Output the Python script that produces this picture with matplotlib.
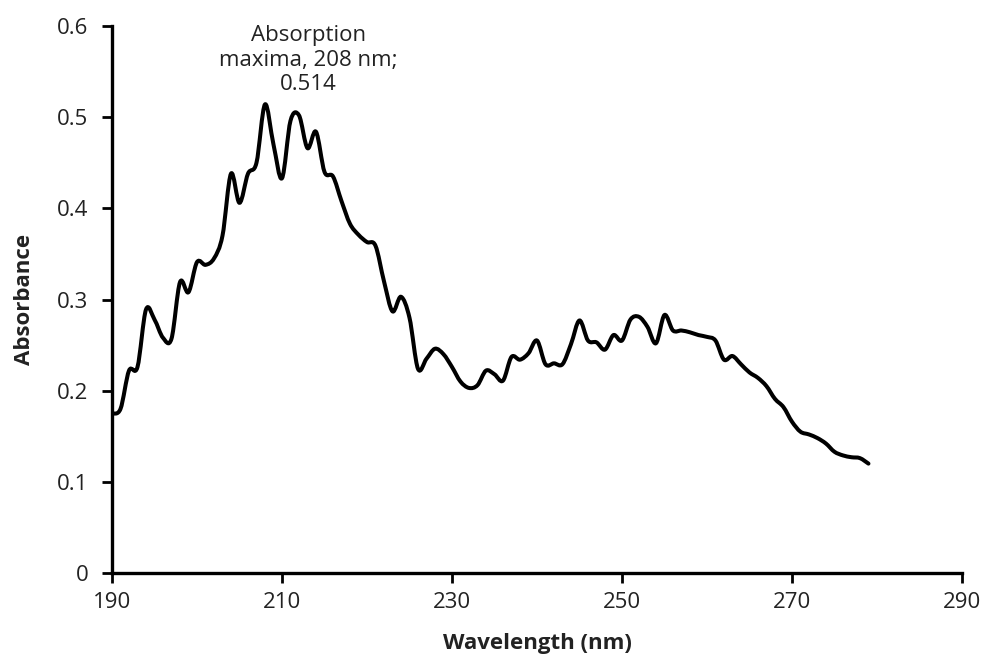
import matplotlib
matplotlib.use("Agg")
import matplotlib.pyplot as plt
from matplotlib.path import Path
from matplotlib.patches import PathPatch
import numpy as np

# absorbance, one value per nm from 190 to 279
wavelength = np.arange(190, 280)
absorbance = [
    0.175, 0.180, 0.222, 0.226, 0.289, 0.278, 0.258, 0.257, 0.319, 0.308,
    0.341, 0.338, 0.345, 0.370, 0.438, 0.406, 0.438, 0.450, 0.514, 0.470,
    0.433, 0.496, 0.502, 0.466, 0.484, 0.440, 0.435, 0.408, 0.383, 0.371,
    0.363, 0.359, 0.320, 0.287, 0.303, 0.280, 0.224, 0.235, 0.246, 0.240,
    0.226, 0.210, 0.203, 0.206, 0.222, 0.218, 0.211, 0.237, 0.234, 0.241,
    0.255, 0.229, 0.230, 0.229, 0.251, 0.277, 0.255, 0.253, 0.245, 0.261,
    0.255, 0.278, 0.281, 0.270, 0.252, 0.283, 0.266, 0.266, 0.264, 0.261,
    0.259, 0.255, 0.234, 0.238, 0.229, 0.220, 0.214, 0.205, 0.191, 0.182,
    0.166, 0.155, 0.152, 0.148, 0.142, 0.133, 0.129, 0.127, 0.126, 0.120,
]
x_ticks = [190, 210, 230, 250, 270, 290]
y_ticks = [0, 0.1, 0.2, 0.3, 0.4, 0.5, 0.6]
y_tick_labels = ["0", "0.1", "0.2", "0.3", "0.4", "0.5", "0.6"]
note = "Absorption\nmaxima, 208 nm;\n0.514"


def smooth_path(x, y, tension=6.0):
    # excel style "smoothed line": bezier segments through every data point
    x = np.asarray(x, float)
    y = np.asarray(y, float)
    xp = np.concatenate([[x[0]], x, [x[-1]]])
    yp = np.concatenate([[y[0]], y, [y[-1]]])
    verts = [(x[0], y[0])]
    codes = [Path.MOVETO]
    for i in range(1, len(x)):
        c1 = (xp[i] + (xp[i + 1] - xp[i - 1]) / tension, yp[i] + (yp[i + 1] - yp[i - 1]) / tension)
        c2 = (xp[i + 1] - (xp[i + 2] - xp[i]) / tension, yp[i + 1] - (yp[i + 2] - yp[i]) / tension)
        verts += [c1, c2, (x[i], y[i])]
        codes += [Path.CURVE4] * 3
    return Path(verts, codes)


plt.rcParams['font.family'] = ['Open Sans', 'DejaVu Sans']

fig = plt.figure(figsize=(9.85, 6.66), dpi=100)
ax = fig.add_axes([0.1137, 0.1396, 0.8629, 0.8214])

ax.add_patch(PathPatch(smooth_path(wavelength, absorbance), facecolor='none',
                       edgecolor='black', linewidth=2.9, joinstyle='round', capstyle='round'))

ax.set_xlim(190, 290)
ax.set_ylim(0, 0.6)
ax.set_xticks(x_ticks)
ax.set_yticks(y_ticks)
ax.set_yticklabels(y_tick_labels)
ax.tick_params(direction='out', length=7, width=2, labelsize=16, colors='black')
ax.tick_params(axis='x', pad=7)
ax.tick_params(axis='y', pad=10)
for lab in ax.get_xticklabels() + ax.get_yticklabels():
    lab.set_color('#222222')

for side in ['top', 'right']:
    ax.spines[side].set_visible(False)
for side in ['left', 'bottom']:
    ax.spines[side].set_linewidth(2.4)
    ax.spines[side].set_color('black')

ax.set_xlabel('Wavelength (nm)', fontsize=16, fontweight='bold', labelpad=14, color='#222222')
ax.set_ylabel('Absorbance', fontsize=16, fontweight='bold', labelpad=16, color='#222222')

ax.text(213.1, 0.5625, note, ha='center', va='center', fontsize=16,
        linespacing=1.2, color='#222222')

fig.savefig('out.png', dpi=100)
